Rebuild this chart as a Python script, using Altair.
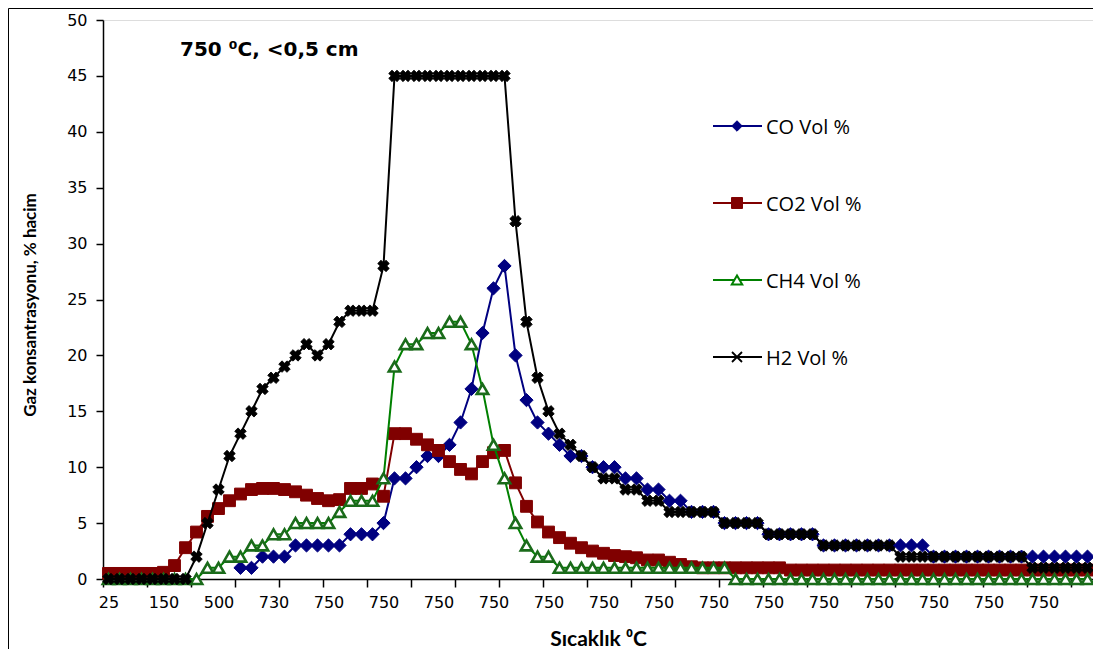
import json
import altair as alt
import pandas as pd

# ---------------- data ----------------
x_labels = ["25", "150", "500", "730", "750", "750", "750", "750", "750",
            "750", "750", "750", "750", "750", "750", "750", "750", "750"]

co_vol = [None, None, None, None, None, None, None, None, None, None,
          None, None, 1, 1, 2, 2, 2, 3, 3, 3,
          3, 3, 4, 4, 4, 5, 9, 9, 10, 11,
          11, 12, 14, 17, 22, 26, 28, 20, 16, 14,
          13, 12, 11, 11, 10, 10, 10, 9, 9, 8,
          8, 7, 7, 6, 6, 6, 5, 5, 5, 5,
          4, 4, 4, 4, 4, 3, 3, 3, 3, 3,
          3, 3, 3, 3, 3, 2, 2, 2, 2, 2,
          2, 2, 2, 2, 2, 2, 2, 2, 2, 2]

co2_vol = [0.5, 0.5, 0.5, 0.5, 0.5, 0.6, 1.2, 2.8, 4.2, 5.6,
           6.3, 7.0, 7.6, 8.0, 8.1, 8.1, 8.0, 7.8, 7.5, 7.2,
           7.0, 7.1, 8.1, 8.1, 8.5, 7.4, 13, 13, 12.5, 12,
           11.5, 10.5, 9.8, 9.4, 10.5, 11.3, 11.5, 8.6, 6.5, 5.1,
           4.2, 3.7, 3.2, 2.8, 2.5, 2.3, 2.1, 2.0, 1.9, 1.7,
           1.7, 1.5, 1.3, 1.1, 1.0, 1.0, 1.0, 1.0, 1.0, 1.0,
           1.0, 1.0, 0.8, 0.8, 0.8, 0.8, 0.8, 0.8, 0.8, 0.8,
           0.8, 0.8, 0.8, 0.8, 0.8, 0.8, 0.8, 0.8, 0.8, 0.8,
           0.8, 0.8, 0.8, 0.8, 0.8, 0.8, 0.8, 0.8, 0.8, 0.8]

ch4_vol = [0, 0, 0, 0, 0, 0, 0, 0, 0, 1,
           1, 2, 2, 3, 3, 4, 4, 5, 5, 5,
           5, 6, 7, 7, 7, 9, 19, 21, 21, 22,
           22, 23, 23, 21, 17, 12, 9, 5, 3, 2,
           2, 1, 1, 1, 1, 1, 1, 1, 1, 1,
           1, 1, 1, 1, 1, 1, 1, 0, 0, 0,
           0, 0, 0, 0, 0, 0, 0, 0, 0, 0,
           0, 0, 0, 0, 0, 0, 0, 0, 0, 0,
           0, 0, 0, 0, 0, 0, 0, 0, 0, 0]

h2_vol = [0, 0, 0, 0, 0, 0, 0, 0, 2, 5,
          8, 11, 13, 15, 17, 18, 19, 20, 21, 20,
          21, 23, 24, 24, 24, 28, 45, 45, 45, 45,
          45, 45, 45, 45, 45, 45, 45, 32, 23, 18,
          15, 13, 12, 11, 10, 9, 9, 8, 8, 7,
          7, 6, 6, 6, 6, 6, 5, 5, 5, 5,
          4, 4, 4, 4, 4, 3, 3, 3, 3, 3,
          3, 3, 2, 2, 2, 2, 2, 2, 2, 2,
          2, 2, 2, 2, 1, 1, 1, 1, 1, 1]

series_names = ["CO Vol %", "CO2 Vol %", "CH4 Vol %", "H2 Vol %"]
title_text = "750 \u2070C, <0,5 cm"
y_title = "Gaz konsantrasyonu, % hacim"
x_title = "Sıcaklık \u2070C"

# ---------------- layout ----------------
W, H = 990, 559
N = len(h2_vol)
idx = list(range(N))


def frame(vals, name):
    df = pd.DataFrame({"i": idx, "v": vals, "s": name})
    return df.dropna()


xscale = alt.Scale(domain=[-0.5, N - 0.5], nice=False, zero=False)
yscale = alt.Scale(domain=[0, 50], nice=False, zero=True)

yaxis = alt.Axis(values=list(range(0, 51, 5)), tickSize=7, labelPadding=9,
                 grid=False, domainColor="black", domainWidth=1.5,
                 tickColor="black", tickWidth=1.5, labelFont="DejaVu Sans",
                 labelFontSize=16, labelColor="black", title=y_title,
                 titleFont="Lato", titleFontSize=17, titleFontWeight="bold",
                 titleColor="black", titleAngle=-90, titleX=-73, titleY=H / 2 + 5,
                 titleAlign="center", titleBaseline="middle")

x_tick_axis = alt.Axis(orient="bottom",
                       values=[k - 0.5 for k in range(0, N + 1, 4)],
                       labels=False, ticks=True, tickSize=8, tickColor="black",
                       tickWidth=1.5, domain=True, domainColor="black",
                       domainWidth=1.5, grid=False, title=None)

label_expr = "%s[round(datum.value / 5)]" % json.dumps(x_labels)
x_label_axis = alt.Axis(orient="bottom", values=list(range(0, N, 5)),
                        labelExpr=label_expr,
                        ticks=False, domain=False, grid=False, labelPadding=15,
                        labelFont="DejaVu Sans", labelFontSize=16,
                        labelColor="black", labelAngle=0, labelOverlap=False,
                        labelFlush=False, title=x_title, titleFont="Lato",
                        titleFontSize=21, titleFontWeight="bold",
                        titleColor="black", titleY=60, titleBaseline="middle")

Y = alt.Y("v:Q", scale=yscale, axis=yaxis)


def X(axis=None):
    return alt.X("i:Q", scale=xscale, axis=axis)


styles = [
    dict(line="#000080", shape="diamond", size=175, fill="#000080",
         stroke="#000080", sw=1),
    dict(line="#800000", shape="square", size=140, fill="#800000",
         stroke="#800000", sw=1),
    dict(line="#008000", shape="triangle-up", size=130, fill="white",
         stroke="#1a6b1a", sw=2.6),
    dict(line="#000000", shape="cross", size=135, fill="black",
         stroke="black", sw=0.8),
]
all_vals = [co_vol, co2_vol, ch4_vol, h2_vol]

layers = []
for k, (vals, name, st) in enumerate(zip(all_vals, series_names, styles)):
    df = frame(vals, name)
    base = alt.Chart(df)
    line = base.mark_line(color=st["line"], strokeWidth=2).encode(
        x=X(x_tick_axis if k == 0 else None), y=Y)
    extra = {"angle": 45} if st["shape"] == "cross" else {}
    pts = base.mark_point(shape=st["shape"], size=st["size"], fill=st["fill"],
                          stroke=st["stroke"], strokeWidth=st["sw"],
                          opacity=1, fillOpacity=1, **extra).encode(
        x=X(x_label_axis if k == 0 else None), y=Y)
    layers += [line, pts]

# ---------------- legend (decoration) ----------------
leg_y = [106, 183, 260, 337]
leg_shapes = ["diamond", "square", "triangle-up", "M-1,-1L1,1M-1,1L1,-1"]
leg_sizes = [110, 120, 110, 100]
one = pd.DataFrame({"a": [0]})
for k in range(4):
    st = styles[k]
    layers.append(alt.Chart(one).mark_rule(color=st["line"], strokeWidth=2).encode(
        x=alt.value(610), x2=alt.value(659), y=alt.value(leg_y[k])))
    if k == 3:
        mk = alt.Chart(one).mark_point(shape=leg_shapes[k], size=leg_sizes[k],
                                       filled=False, stroke="black",
                                       strokeWidth=1.8, opacity=1)
    elif k == 2:
        mk = alt.Chart(one).mark_point(shape=leg_shapes[k], size=leg_sizes[k],
                                       fill="white", stroke="#008000",
                                       strokeWidth=2, opacity=1, fillOpacity=1)
    else:
        mk = alt.Chart(one).mark_point(shape=leg_shapes[k], size=leg_sizes[k],
                                       fill=st["fill"], stroke=st["stroke"],
                                       strokeWidth=1, opacity=1, fillOpacity=1)
    layers.append(mk.encode(x=alt.value(634), y=alt.value(leg_y[k])))
    layers.append(alt.Chart(pd.DataFrame({"t": [series_names[k]]})).mark_text(
        align="left", baseline="middle", font="Open Sans", fontSize=20,
        color="black").encode(x=alt.value(663), y=alt.value(leg_y[k] + 2),
                              text="t:N"))

# ---------------- in-plot title ----------------
layers.append(alt.Chart(pd.DataFrame({"t": [title_text]})).mark_text(
    align="left", baseline="middle", font="DejaVu Sans", fontSize=20,
    fontWeight="bold", color="black").encode(
    x=alt.value(77), y=alt.value(30), text="t:N"))

# ---------------- outer frame (left and top edges visible) ----------------
layers.append(alt.Chart(one).mark_rect(fillOpacity=0, stroke="black",
                                       strokeWidth=1).encode(
    x=alt.value(-94.5), x2=alt.value(W + 30), y=alt.value(-11.5),
    y2=alt.value(H + 120)))

chart = alt.layer(*layers).resolve_axis(x="independent").properties(
    width=W, height=H,
    autosize=alt.AutoSizeParams(type="none"),
    padding={"left": 95, "top": 12, "right": 0, "bottom": 70},
).configure_view(stroke="transparent").configure(background="white")

chart.save("out.html", embed_options={"renderer": "svg", "actions": False})
